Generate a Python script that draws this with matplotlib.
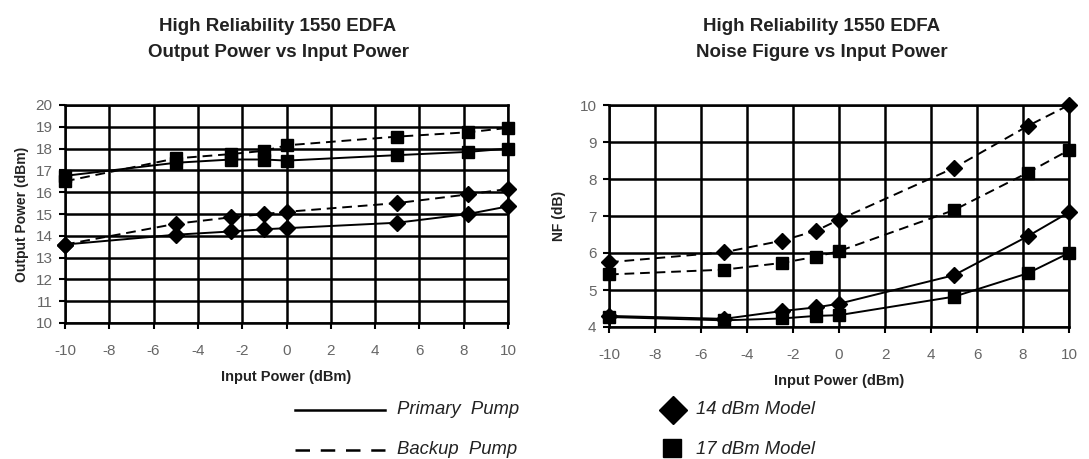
import matplotlib
matplotlib.use("Agg")
import matplotlib.pyplot as plt
from matplotlib.lines import Line2D

plt.rcParams['font.family'] = ['Liberation Sans', 'DejaVu Sans']
plt.rcParams['axes.unicode_minus'] = False

x_in = [-10, -5, -2.5, -1, 0, 5, 8.2, 10]

# Output power (dBm)
out_14_primary = [13.6, 14.05, 14.2, 14.3, 14.35, 14.6, 15.0, 15.35]
out_14_backup = [13.6, 14.55, 14.85, 15.0, 15.1, 15.5, 15.9, 16.15]
out_17_primary = [16.75, 17.35, 17.5, 17.5, 17.45, 17.7, 17.85, 18.0]
out_17_backup = [16.5, 17.55, 17.75, 17.9, 18.15, 18.55, 18.75, 18.95]

# Noise figure (dB)
nf_14_primary = [4.3, 4.22, 4.43, 4.53, 4.63, 5.4, 6.45, 7.1]
nf_14_backup = [5.75, 6.02, 6.33, 6.6, 6.9, 8.3, 9.43, 10.0]
nf_17_primary = [4.27, 4.18, 4.23, 4.3, 4.32, 4.82, 5.45, 6.0]
nf_17_backup = [5.42, 5.55, 5.73, 5.9, 6.05, 7.16, 8.17, 8.78]

x_ticks = [-10, -8, -6, -4, -2, 0, 2, 4, 6, 8, 10]
out_ticks = list(range(10, 21))
nf_ticks = list(range(4, 11))

fig = plt.figure(figsize=(10.89, 4.59), dpi=100)
W, H = 1089, 459

def px_axes(x0, y0, x1, y1):
    return fig.add_axes([x0 / W, 1 - y1 / H, (x1 - x0) / W, (y1 - y0) / H])

ax1 = px_axes(65, 105, 508, 323)
ax2 = px_axes(609, 105, 1069, 327)

tick_color = '#666666'
text_color = '#222222'

def style(ax, yticks, ylim):
    ax.set_xlim(-10, 10)
    ax.set_ylim(*ylim)
    ax.set_xticks(x_ticks)
    ax.set_yticks(yticks)
    ax.grid(True, color='black', linewidth=1.8)
    ax.set_axisbelow(True)
    for s in ax.spines.values():
        s.set_linewidth(1.8)
        s.set_color('black')
    ax.tick_params(axis='both', direction='out', length=4, width=1.5,
                   labelsize=11, labelcolor=tick_color, color='black', pad=5)
    ax.tick_params(axis='x', pad=11)
    ax.set_xlabel('Input Power (dBm)', fontsize=10.5, fontweight='bold',
                  color=text_color, labelpad=9)

ms_d = 8.5
ms_s = 9
lw = 1.4
dash = (0, (5, 3))

def draw(ax, p14, b14, p17, b17):
    ax.plot(x_in, p14, color='black', lw=lw, marker='D', ms=ms_d, zorder=3)
    ax.plot(x_in, b14, color='black', lw=lw, ls=dash, marker='D', ms=ms_d, zorder=3)
    ax.plot(x_in, p17, color='black', lw=lw, marker='s', ms=ms_s, zorder=3)
    ax.plot(x_in, b17, color='black', lw=lw, ls=dash, marker='s', ms=ms_s, zorder=3)

draw(ax1, out_14_primary, out_14_backup, out_17_primary, out_17_backup)
draw(ax2, nf_14_primary, nf_14_backup, nf_17_primary, nf_17_backup)

style(ax1, out_ticks, (10, 20))
style(ax2, nf_ticks, (4, 10))
for ax in (ax1, ax2):
    for sp in ax.spines.values():
        sp.set_clip_on(False)
    for ln in ax.lines:
        ln.set_clip_on(False)

ax1.set_ylabel('Output Power (dBm)', fontsize=10, fontweight='bold',
               color=text_color, labelpad=5)
ax2.set_ylabel('NF (dB)', fontsize=10, fontweight='bold',
               color=text_color, labelpad=10)

title_kw = dict(ha='center', va='baseline', fontsize=13.5, fontweight='bold', color=text_color)
fig.text(278 / W, 1 - 31 / H, 'High Reliability 1550 EDFA', **title_kw)
fig.text(278 / W, 1 - 57 / H, 'Output Power vs Input Power', **title_kw)
fig.text(822 / W, 1 - 31 / H, 'High Reliability 1550 EDFA', **title_kw)
fig.text(822 / W, 1 - 57 / H, 'Noise Figure vs Input Power', **title_kw)

# Custom legend
lg = fig.add_axes([0, 0, 1, 1], facecolor='none')
lg.set_xlim(0, W)
lg.set_ylim(H, 0)
lg.axis('off')
lg.add_line(Line2D([295, 385], [410, 410], color='black', lw=1.8))
lg.add_line(Line2D([295, 385], [450, 450], color='black', lw=1.8, ls=(0, (5.8, 4.3))))
leg_kw = dict(fontsize=13.3, style='italic', va='center', color=text_color)
lg.text(397, 410, 'Primary  Pump', **leg_kw)
lg.text(397, 450, 'Backup  Pump', **leg_kw)
lg.plot([673], [410], marker='D', ms=14, color='black')
lg.plot([672], [448], marker='s', ms=13, color='black')
lg.text(696, 410, '14 dBm Model', **leg_kw)
lg.text(696, 450, '17 dBm Model', **leg_kw)

fig.savefig('out.png', dpi=100)
